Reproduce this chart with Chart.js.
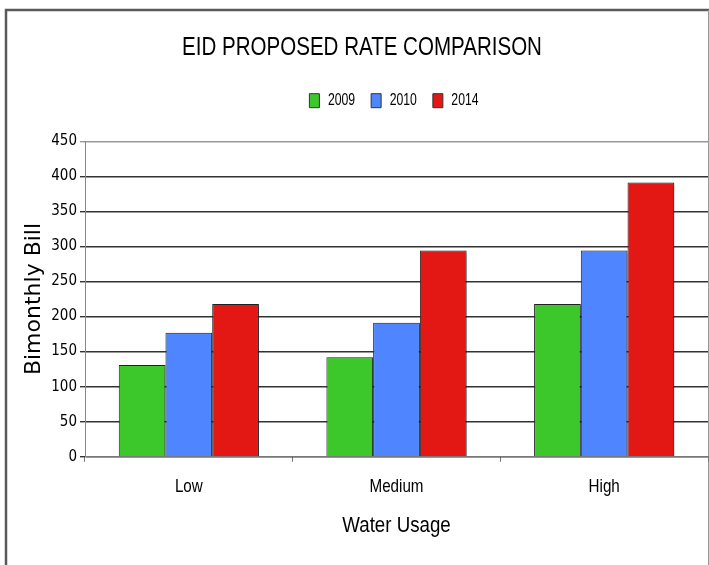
<!DOCTYPE html>
<html>
<head>
<meta charset="utf-8">
<script src="https://cdn.jsdelivr.net/npm/chart.js@4.4.1/dist/chart.umd.min.js"></script>
<style>
  html, body { margin: 0; padding: 0; background: #fff; }
  #wrap { position: relative; width: 709px; height: 565px; }
</style>
</head>
<body>
<div id="wrap"><canvas id="rates" width="709" height="565"></canvas></div>
<script>
'use strict';

/***************************** données *****************************/
var usageLevels = ['Low', 'Medium', 'High'];
var years = ['2009', '2010', '2014'];
var bill2009 = [131, 142, 218];
var bill2010 = [177, 191, 294];
var bill2014 = [218, 294, 391];
var yTicks = [0, 50, 100, 150, 200, 250, 300, 350, 400, 450];

// pas de police "narrow" installée : on compresse Liberation Sans à l'horizontale.
// Le faux nom 'NarrowXX' (ignoré par le navigateur) donne le facteur de compression.
function narrow(pct) {
  return "'Narrow" + pct + "', 'Liberation Sans', sans-serif";
}
var condensed = "'DejaVu Sans Condensed', 'DejaVu Sans', sans-serif";
var verdanaLike = "'DejaVu Sans', sans-serif";

var canvas = document.getElementById('rates');
var ctx = canvas.getContext('2d');

function narrowFactor(c) {
  var m = /Narrow(\d+)/.exec(c.font);
  return m ? parseInt(m[1], 10) / 100 : 1;
}

var origFill = ctx.fillText;
ctx.fillText = function(text, x, y, maxWidth) {
  var k = narrowFactor(this);
  if (k === 1) {
    return origFill.apply(this, arguments);
  }
  this.save();
  this.translate(x, y);
  this.scale(k, 1);
  if (maxWidth !== undefined && maxWidth !== null) {
    origFill.call(this, text, 0, 0, maxWidth / k);
  } else {
    origFill.call(this, text, 0, 0);
  }
  this.restore();
};

var origMeasure = ctx.measureText;
ctx.measureText = function(text) {
  var m = origMeasure.call(this, text);
  var k = narrowFactor(this);
  if (k === 1) {
    return m;
  }
  return {
    width: m.width * k,
    actualBoundingBoxAscent: m.actualBoundingBoxAscent,
    actualBoundingBoxDescent: m.actualBoundingBoxDescent,
    actualBoundingBoxLeft: m.actualBoundingBoxLeft * k,
    actualBoundingBoxRight: m.actualBoundingBoxRight * k
  };
};

/***************************** plugins *****************************/
// cadre gris autour du graphique
var framePlugin = {
  id: 'frame',
  beforeDraw: function(chart) {
    var c = chart.ctx;
    c.save();
    c.fillStyle = '#fff';
    c.fillRect(0, 0, chart.width, chart.height);
    c.strokeStyle = '#5a5a5a';
    c.lineWidth = 2.5;
    c.beginPath();
    c.moveTo(6, chart.height + 2);
    c.lineTo(6, 10);
    c.lineTo(chart.width + 2, 10);
    c.stroke();
    c.strokeStyle = '#999';
    c.lineWidth = 1;
    c.beginPath();
    c.moveTo(708.5, 10);
    c.lineTo(708.5, chart.height);
    c.stroke();
    c.restore();
  }
};

// légende : plus d'espace dessous ; titre et légende décalés vers la droite comme l'original
var legendSpace = {
  id: 'legendSpace',
  afterInit: function(chart) {
    var legend = chart.legend;
    var fit = legend.fit;
    legend.fit = function() {
      fit.call(legend);
      legend.height = 65;
    };
  },
  afterLayout: function(chart) {
    chart.legend.left += 40;
    chart.legend.right += 40;
    chart.titleBlock.left += 8;
    chart.titleBlock.right += 8;
  }
};

// petite ombre sous les barres
var shadowPlugin = {
  id: 'barShadow',
  beforeDatasetsDraw: function(chart) {
    var c = chart.ctx;
    c.save();
    c.shadowColor = 'rgba(0,0,0,0.35)';
    c.shadowOffsetX = 2;
    c.shadowOffsetY = 1;
    c.shadowBlur = 2;
  },
  afterDatasetsDraw: function(chart) {
    chart.ctx.restore();
  }
};

/***************************** graphique *****************************/
var data = {
  labels: usageLevels,
  datasets: [
    { label: years[0], data: bill2009, backgroundColor: '#3cc82b' },
    { label: years[1], data: bill2010, backgroundColor: '#4f86ff' },
    { label: years[2], data: bill2014, backgroundColor: '#e31713' }
  ]
};

var options = {
  responsive: false,
  animation: false,
  devicePixelRatio: 1,
  layout: { padding: { left: 0, right: 1, top: 0, bottom: 22 } },
  datasets: {
    bar: {
      borderColor: '#222',
      borderWidth: 1,
      categoryPercentage: 0.675,
      barPercentage: 1.0
    }
  },
  plugins: {
    title: {
      display: true,
      text: 'EID PROPOSED RATE COMPARISON',
      color: '#000',
      font: { family: narrow(79), size: 26, weight: 'normal' },
      padding: { top: 32, bottom: 13 }
    },
    legend: {
      display: true,
      labels: {
        boxWidth: 10,
        boxHeight: 14,
        padding: 16,
        color: '#000',
        font: { family: narrow(72), size: 17 },
        generateLabels: function(chart) {
          return chart.data.datasets.map(function(ds, i) {
            return {
              text: ds.label,
              fillStyle: ds.backgroundColor,
              strokeStyle: '#333',
              lineWidth: 1,
              datasetIndex: i
            };
          });
        }
      }
    },
    tooltip: { enabled: false }
  },
  scales: {
    x: {
      offset: true,
      grid: {
        offset: true,
        drawOnChartArea: false,
        drawTicks: true,
        tickLength: 5,
        color: '#777'
      },
      border: { color: '#777', width: 1 },
      ticks: {
        color: '#000',
        padding: 14,
        font: { family: narrow(80), size: 19 }
      },
      title: {
        display: true,
        text: 'Water Usage',
        color: '#000',
        font: { family: narrow(85), size: 22 },
        padding: { top: 0, bottom: 4 }
      }
    },
    y: {
      min: 0,
      max: 450,
      afterBuildTicks: function(axis) {
        axis.ticks = yTicks.map(function(v) { return { value: v }; });
      },
      afterFit: function(axis) { axis.width = 85; },
      grid: {
        color: function(c) { return c.tick && c.tick.value === 450 ? '#9a9a9a' : '#333'; },
        lineWidth: 1.4,
        tickLength: 5
      },
      border: { color: '#888', width: 1 },
      ticks: {
        color: '#000',
        padding: 3,
        font: { family: condensed, size: 15 }
      },
      title: {
        display: true,
        text: 'Bimonthly Bill',
        color: '#000',
        font: { family: verdanaLike, size: 22 },
        padding: { top: 21, bottom: 4 }
      }
    }
  }
};

var chartTarifs = new Chart(ctx, {
  type: 'bar',
  data: data,
  options: options,
  plugins: [framePlugin, legendSpace, shadowPlugin]
});
</script>
</body>
</html>
